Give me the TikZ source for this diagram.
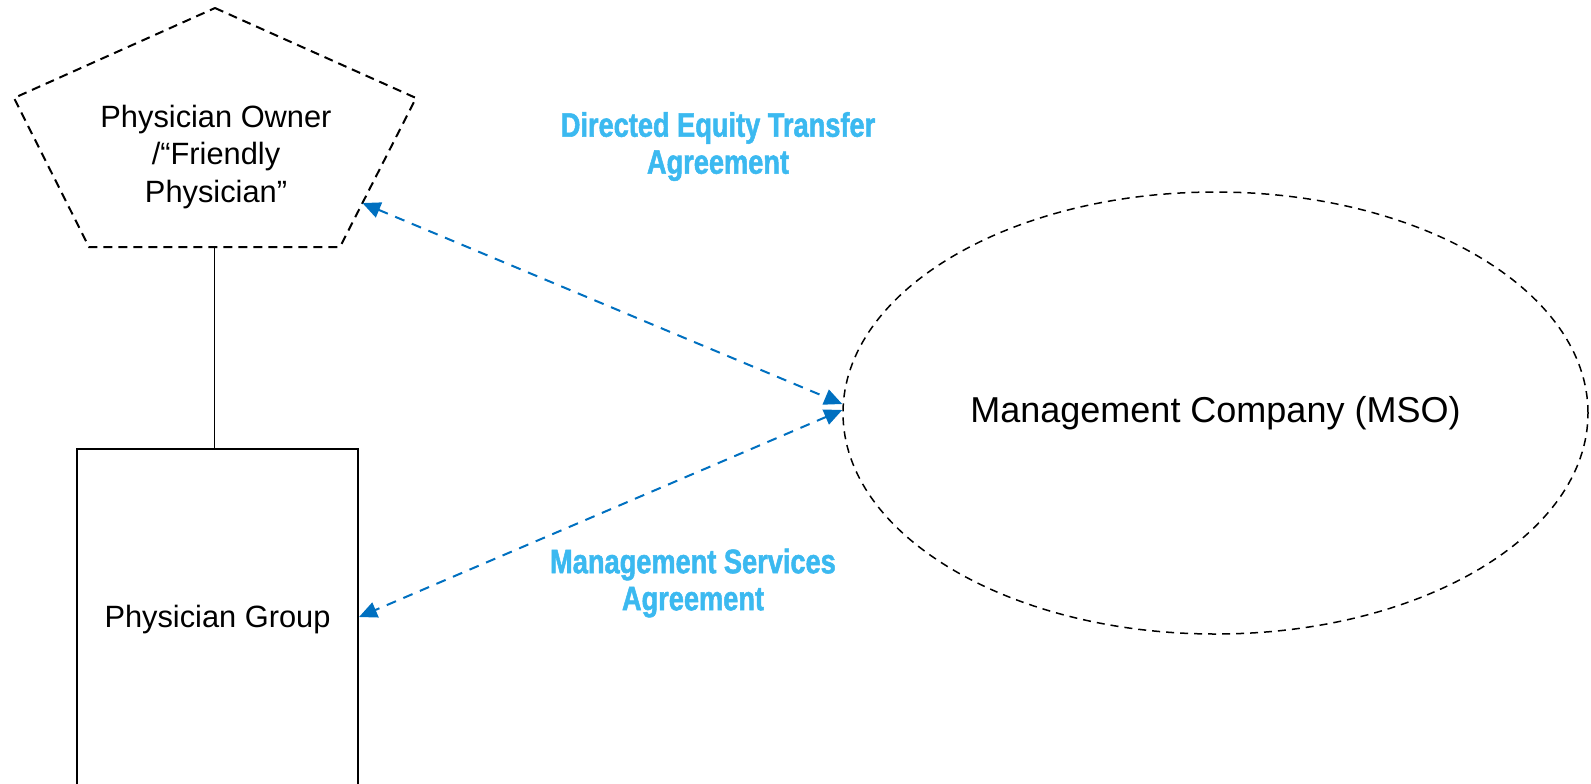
\documentclass[tikz,border=0pt]{standalone}
\usepackage{fontspec}
\usepackage{tikz}
\usetikzlibrary{arrows.meta,calc,shapes.geometric}
\setmainfont{Liberation Sans}
\newfontfamily\labelfont[FakeStretch=0.8, FakeBold=1.5]{Liberation Sans}
\definecolor{arrowblue}{HTML}{0070C0}
\definecolor{labelblue}{HTML}{3BB9F0}
\newcommand*{\tip}{Triangle[length=9pt,width=8pt]}

\begin{document}
\begin{tikzpicture}[x=0.5pt, y=-0.5pt]
  \useasboundingbox (0,0) rectangle (1591,783);
  \clip (0,0) rectangle (1591,783);

  \coordinate (p0) at (215,8);
  \coordinate (p1) at (416,98);
  \coordinate (p2) at (340,247);
  \coordinate (p3) at (89,247);
  \coordinate (p4) at (14,98);
  \draw [line width=1pt, dash pattern=on 4.5pt off 3pt]
    (p0) -- (p1) -- (p2) -- (p3) -- (p4) -- cycle;

  {\tikzstyle{every node}=[align=center]
    \tikzstyle{agreement}=[text=labelblue, inner sep=0pt,
      font=\labelfont\bfseries\fontsize{17}{18.5}\selectfont]

    \node [font=\fontsize{15.4}{18.75}\selectfont] (owner) at (216,157)
      {Physician Owner\\/“Friendly\\Physician”};

    \node [draw, line width=1pt, minimum width=140.5pt, minimum height=170.5pt,
      font=\fontsize{15.4}{18.75}\selectfont] (group) at (217.5,619.5)
      {Physician Group};

    \node [ellipse, draw, line width=0.75pt, dash pattern=on 4pt off 3pt,
      minimum width=372.5pt, minimum height=221pt,
      font=\fontsize{18}{22}\selectfont] (mso) at (1215.5,413)
      {\raisebox{-3pt}{Management Company (MSO)}};

    \node [agreement] (deta) at (718,146.5)
      {Directed Equity Transfer\\Agreement};
    \node [agreement] (msa) at (693,583)
      {Management Services\\Agreement};
  }

  \coordinate (ownerport) at ($(p1)!0.705!(p2)$);
  \coordinate (ownerbase) at ($(p2)!0.5!(p3)$);
  \coordinate (msotop) at ($(mso.west)+(0,-9)$);
  \coordinate (msolow) at ($(mso.west)+(0,-3)$);

  \draw [line width=0.7pt]
    (ownerbase) -- (ownerbase |- group.north);

  \draw [arrowblue, line width=1pt, dash pattern=on 5pt off 4pt, {\tip}-{\tip}]
    (ownerport) -- (msotop);
  \draw [arrowblue, line width=1pt, dash pattern=on 5pt off 4pt, {\tip}-{\tip}]
    (msolow) -- (group.east |- 0,617);
\end{tikzpicture}
\end{document}
